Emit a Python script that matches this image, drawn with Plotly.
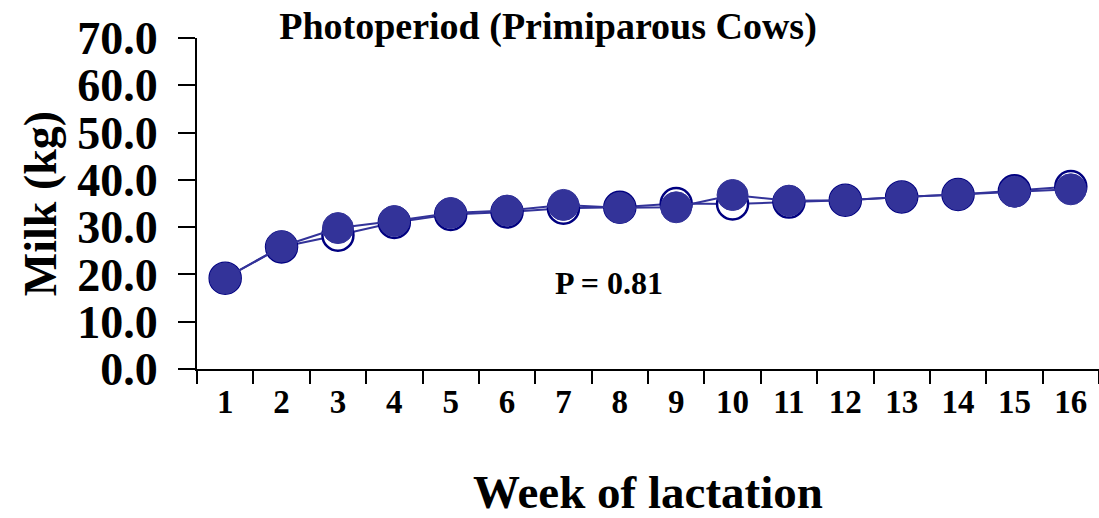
import plotly.graph_objects as go

weeks = [str(i) for i in range(1, 17)]
control_milk = [19.2, 25.8, 28.3, 31.0, 32.7, 33.2, 34.0, 34.2, 35.0, 34.9, 35.3, 35.7, 36.4, 36.9, 37.7, 38.6]
photo_milk = [19.2, 25.9, 29.8, 31.3, 33.0, 33.5, 34.7, 34.1, 34.2, 36.8, 35.6, 35.7, 36.4, 36.9, 37.5, 38.0]
y_ticks = [0, 10, 20, 30, 40, 50, 60, 70]

FONT = "Liberation Serif"
W, H = 1099, 518

fig = go.Figure()
fig.add_trace(go.Scatter(
    x=weeks, y=control_milk, mode="lines+markers",
    line=dict(color="#333399", width=2),
    marker=dict(size=31, color="white", line=dict(color="#000080", width=2.5)),
    showlegend=False, cliponaxis=False,
))
fig.add_trace(go.Scatter(
    x=weeks, y=photo_milk, mode="lines+markers",
    line=dict(color="#333399", width=2),
    marker=dict(size=31, color="#333399", line=dict(color="#333399", width=1)),
    showlegend=False, cliponaxis=False,
))

fig.update_layout(
    width=W, height=H,
    margin=dict(l=197, r=0, t=38, b=H - 369, autoexpand=False),
    paper_bgcolor="white", plot_bgcolor="white",
    font=dict(family=FONT, color="black"),
    title=dict(text="<b>Photoperiod (Primiparous Cows)</b>", x=548 / W, xref="container",
               y=1 - 26 / H, yref="container", yanchor="middle", xanchor="center",
               font=dict(family=FONT, size=38, color="black")),
    xaxis=dict(
        type="category", range=[-0.5, 15.5], automargin=False,
        tickson="boundaries", ticks="outside", ticklen=13, tickwidth=2, tickcolor="black",
        showline=True, linecolor="black", linewidth=2, showgrid=False, zeroline=False,
        tickfont=dict(family=FONT, size=33, color="black"),
        ticklabelstandoff=2,
        title=dict(text="<b>Week of lactation</b>", font=dict(family=FONT, size=47, color="black"), standoff=57),
        tickprefix="<b>", ticksuffix="</b>",
    ),
    yaxis=dict(
        range=[0, 70], tickvals=y_ticks, ticktext=[f"<b>{v:.1f}</b>" for v in y_ticks],
        automargin=False,
        ticks="outside", ticklen=17, tickwidth=2, tickcolor="black",
        showline=True, linecolor="black", linewidth=2, showgrid=False, zeroline=False,
        tickfont=dict(family=FONT, size=46, color="black"),
        ticklabelstandoff=11,
        title=dict(text="<b>Milk (kg)</b>", font=dict(family=FONT, size=46, color="black"), standoff=6),
    ),
    annotations=[dict(
        text="<b>P = 0.81</b>", xref="paper", yref="paper",
        x=(609 - 197) / 902, y=(369 - 283) / 331, xanchor="center", yanchor="middle",
        showarrow=False, font=dict(family=FONT, size=32, color="black"),
    )],
)

fig.write_html("out.html", config={"displayModeBar": False},
               post_script="document.body.style.margin='0';")
